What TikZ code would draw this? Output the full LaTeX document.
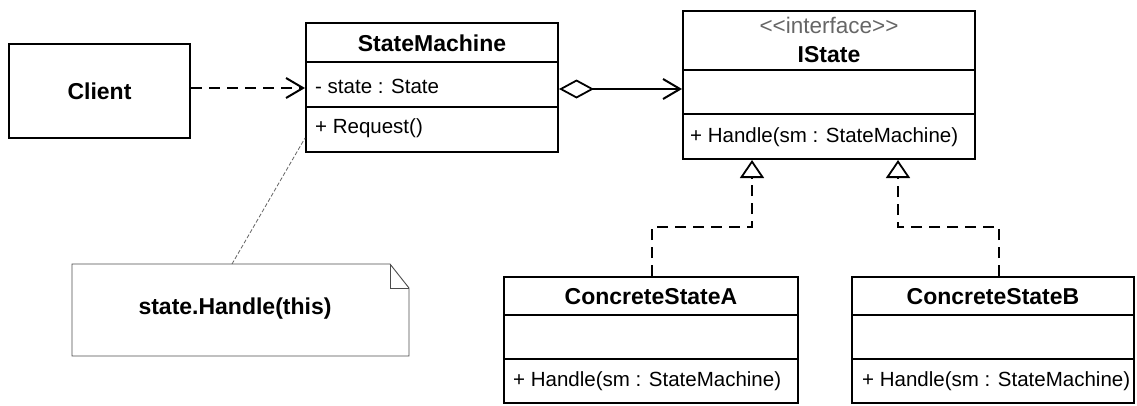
\documentclass[tikz,border=0pt]{standalone}
\usepackage{fontspec}
\setmainfont{Liberation Sans}
\usetikzlibrary{arrows.meta}
\begin{document}
\begin{tikzpicture}[x=1pt,y=-1pt,
  box/.style={draw, line width=2pt, inner sep=0pt},
  divider/.style={line width=2pt},
  namefont/.style={font=\fontsize{23}{27}\selectfont\bfseries, inner sep=0pt},
  membfont/.style={font=\fontsize{20.5}{24}\selectfont, inner sep=0pt, anchor=west},
  stereo/.style={font=\fontsize{22.5}{26}\selectfont, inner sep=0pt, text=black!60},
  notetext/.style={font=\fontsize{23}{27}\selectfont\bfseries, inner sep=0pt},
  notebox/.style={draw=black!70, line width=0.9pt},
  noteline/.style={draw=black!60, line width=0.8pt, dash pattern=on 4pt off 2pt},
  depline/.style={line width=2.2pt, dash pattern=on 11pt off 7pt,
    -{Straight Barb[length=17pt,width=20pt,line width=2pt]}},
  aggline/.style={line width=2pt,
    {Diamond[open,length=35pt,width=19pt,line width=1.8pt]}-{Straight Barb[length=17pt,width=20pt,line width=2pt]}},
  realline/.style={line width=2.2pt, dash pattern=on 11pt off 7pt,
    -{Triangle[open,length=18pt,width=24pt,line width=1.8pt]}}
]
\useasboundingbox (0,0) rectangle (1137,405);

% Client
\node[box, minimum width=181pt, minimum height=94pt] (client) at (99.5,91) {};
\node[namefont] (clientname) at (99.5,91) {Client};

% StateMachine
\node[box, minimum width=252pt, minimum height=129pt] (sm) at (432,87.5) {};
\draw[divider] (sm.west |- 0,62) -- (sm.east |- 0,62);
\draw[divider] (sm.west |- 0,107) -- (sm.east |- 0,107);
\node[namefont] (smname) at (432,43) {StateMachine};
\node[membfont] (smattr) at (315,86) {- state : State};
\node[membfont] (smop) at (315,128) {+ Request()};

% IState
\node[box, minimum width=292pt, minimum height=148pt] (is) at (829,85) {};
\draw[divider] (is.west |- 0,70) -- (is.east |- 0,70);
\draw[divider] (is.west |- 0,114) -- (is.east |- 0,114);
\node[stereo] (isst) at (829,25) {<{}<interface>{}>};
\node[namefont] (isname) at (829,55) {IState};
\node[membfont] (isop) at (690,137) {+ Handle(sm : StateMachine)};

% ConcreteStateA
\node[box, minimum width=294pt, minimum height=126pt] (csa) at (651,340) {};
\draw[divider] (csa.west |- 0,315) -- (csa.east |- 0,315);
\draw[divider] (csa.west |- 0,359) -- (csa.east |- 0,359);
\node[namefont] (csaname) at (651,297) {ConcreteStateA};
\node[membfont] (csaop) at (513,381) {+ Handle(sm : StateMachine)};

% ConcreteStateB
\node[box, minimum width=282pt, minimum height=126pt] (csb) at (993,340) {};
\draw[divider] (csb.west |- 0,315) -- (csb.east |- 0,315);
\draw[divider] (csb.west |- 0,359) -- (csb.east |- 0,359);
\node[namefont] (csbname) at (993,297) {ConcreteStateB};
\node[membfont] (csbop) at (862,381) {+ Handle(sm : StateMachine)};

% Note
\node[inner sep=0pt, minimum width=337pt, minimum height=92pt] (note) at (240.5,310) {};
\draw[notebox] (72,264) -- (390,264) -- (409,288) -- (409,356) -- (72,356) -- cycle;
\draw[notebox] (390,264) -- (390,288) -- (409,288);
\node[notetext] (notetxt) at (235,309) {state.Handle(this)};

% connectors
\coordinate (noteanchor) at (232,264);
\draw[noteline] (noteanchor) -- (sm.west |- 0,138);

\draw[depline] (client.east |- 0,88) -- (sm.west |- 0,88);
\draw[aggline] (sm.east |- 0,89) -- (is.west |- 0,89);

\coordinate (ia) at (is.south -| 752,0);
\coordinate (ib) at (is.south -| 898,0);
\draw[realline] (csa.north -| 652,0) -- (652,227) -| (ia);
\draw[realline] (csb.north -| 999,0) -- (999,227) -| (ib);
\end{tikzpicture}
\end{document}
